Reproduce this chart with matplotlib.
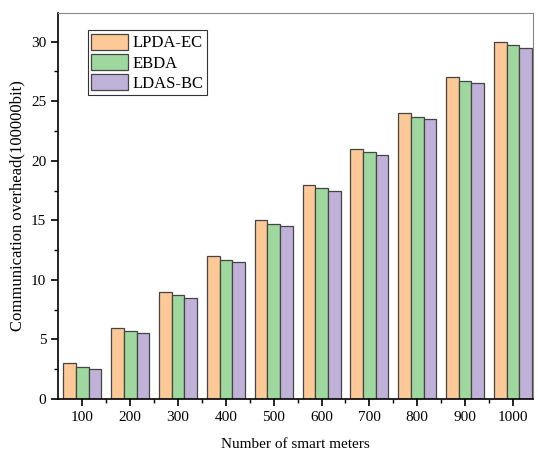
import matplotlib

matplotlib.use("Agg", force=True)
import matplotlib.pyplot as plt
import numpy as np
from matplotlib.ticker import MultipleLocator

meters = ["100", "200", "300", "400", "500", "600", "700", "800", "900", "1000"]
lpda_ec = [3, 6, 9, 12, 15, 18, 21, 24, 27, 30]
ebda = [2.7, 5.7, 8.7, 11.7, 14.7, 17.7, 20.7, 23.7, 26.7, 29.7]
ldas_bc = [2.5, 5.5, 8.5, 11.5, 14.5, 17.5, 20.5, 23.5, 26.5, 29.5]

plt.rcParams["font.family"] = ["Liberation Serif", "DejaVu Serif"]

fig = plt.figure(figsize=(5.38, 4.54), dpi=100)
ax = fig.add_axes([58 / 538, 1 - 399 / 454, (533 - 58) / 538, (399 - 13) / 454])

x = np.arange(len(meters))
w = 0.265
series = [
    (lpda_ec, "#FDC996", "LPDA-EC"),
    (ebda, "#9FD89F", "EBDA"),
    (ldas_bc, "#C0B1D8", "LDAS-BC"),
]
for i, (vals, color, label) in enumerate(series):
    ax.bar(x + (i - 1) * w, vals, width=w, color=color, edgecolor="#444444",
           linewidth=0.9, label=label)

ax.set_xlim(-0.51, 9.42)
ax.set_ylim(0, 32.4)
ax.set_xticks(x)
ax.set_xticklabels(meters)
ax.set_xticks(x[:-1] + 0.5, minor=True)
ax.yaxis.set_major_locator(MultipleLocator(5))
ax.yaxis.set_minor_locator(MultipleLocator(2.5))
ax.tick_params(which="major", direction="out", length=5, width=1.2, labelsize=11)
ax.tick_params(which="minor", direction="out", length=3, width=1.0)
for side in ["left", "bottom"]:
    ax.spines[side].set_linewidth(1.2)
for side in ["top", "right"]:
    ax.spines[side].set_color("#888888")

ax.set_xlabel("Number of smart meters", fontsize=11, labelpad=10)
ax.set_ylabel("Communication overhead(100000bit)", fontsize=12, labelpad=4)

leg = ax.legend(loc="upper left", bbox_to_anchor=(0.063, 0.955), fontsize=12,
                fancybox=False, edgecolor="#333333", framealpha=1,
                handlelength=2.2, handleheight=1.1, handletextpad=0.3,
                borderpad=0.2, labelspacing=0.15, borderaxespad=0)
leg.get_frame().set_linewidth(0.8)

fig.savefig("out.png", dpi=100)
